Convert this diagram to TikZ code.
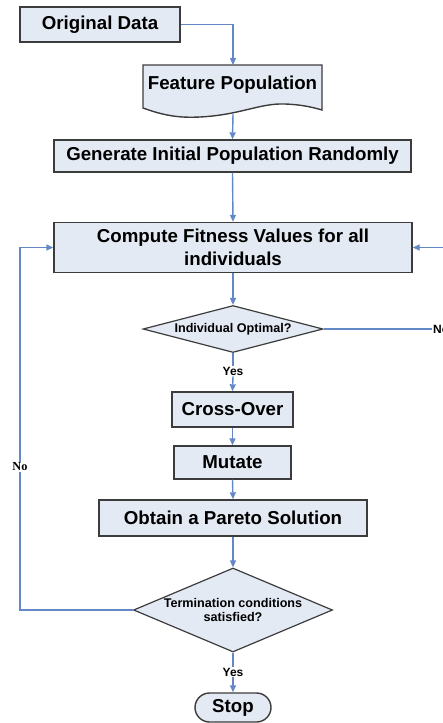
\documentclass[tikz,border=0pt]{standalone}
\usepackage{fontspec}
\setmainfont{Liberation Sans}
\newfontfamily\serifbold{Liberation Serif}
\usetikzlibrary{shapes.geometric,arrows.meta}
\definecolor{boxfill}{HTML}{E4EAF4}
\definecolor{boxline}{HTML}{3C3C3C}
\definecolor{conn}{HTML}{6488C6}
\tikzset{
  proc/.style={draw=boxline, fill=boxfill, line width=1.4pt, inner sep=0pt,
    font=\fontsize{18.7}{23}\selectfont\bfseries, align=center},
  dia/.style={shape=diamond, draw=boxline, fill=boxfill, line width=1.2pt, inner sep=0pt},
  dtext/.style={font=\fontsize{12.6}{13.5}\selectfont\bfseries, align=center, inner sep=0pt},
  lab/.style={font=\fontsize{12}{14}\selectfont\bfseries, fill=white, inner sep=1pt},
  conline/.style={draw=conn, line width=1.4pt},
  arr/.style={conline, -{Triangle[length=7pt,width=6pt]}},
}
\begin{document}
\begin{tikzpicture}[x=1pt,y=-1pt]
\useasboundingbox (0,0) rectangle (442,723);
% nodes
\node[proc, minimum width=160pt, minimum height=35pt] (od) at (100,24.5) {Original Data};
% document shape
\path[draw=boxline, fill=boxfill, line width=1.4pt]
  (143,65) -- (322,65) -- (322,110)
  .. controls (312,107) and (300,104.5) .. (285,104)
  .. controls (260,103) and (240,115) .. (200,117)
  .. controls (180,118) and (165,116) .. (143,108) -- cycle;
\node[font=\fontsize{18.7}{23}\selectfont\bfseries, inner sep=0pt] (fp) at (232.5,85) {Feature Population};
\coordinate (fpt) at (233,65);
\coordinate (fpb) at (233,114);
\node[proc, minimum width=357pt, minimum height=32pt] (gen) at (232.5,156) {Generate Initial Population Randomly};
\node[proc, minimum width=358pt, minimum height=50pt] (cf) at (233,247.5) {Compute Fitness Values for all\\individuals};
\node[dia, minimum width=180pt, minimum height=47pt,
  label={[dtext]center:Individual Optimal?}] (d1) at (233,329) {};
\node[lab] (yes1) at (233,371) {Yes};
\node[proc, minimum width=121pt, minimum height=35pt] (co) at (232.5,409.5) {Cross-Over};
\node[proc, minimum width=117pt, minimum height=33pt] (mu) at (232.5,462.5) {Mutate};
\node[proc, minimum width=268pt, minimum height=36pt] (ob) at (233,518) {Obtain a Pareto Solution};
\node[dia, minimum width=199pt, minimum height=84pt,
  label={[dtext]center:{Termination conditions\\satisfied?}}] (d2) at (233,610) {};
\node[lab] (yes2) at (233,672) {Yes};
\node[proc, rounded corners=14.5pt, minimum width=76pt, minimum height=29pt] (stop) at (233,707.5) {Stop};
\node[lab, font=\fontsize{12.3}{14}\selectfont\serifbold\bfseries] (no1) at (20,467) {No};
\node[lab, anchor=west] (no2) at (432,329) {No};
% connectors
\draw[arr] (od.east) -| (fpt);
\draw[arr] (fpb) -- (gen.north);
\draw[arr] (gen.south) -- (cf.north);
\draw[arr] (cf.south) -- (d1.north);
\draw[conline] (d1.south) -- (yes1.north);
\draw[arr] (yes1.south) -- (co.north);
\draw[arr] (co.south) -- (mu.north);
\draw[arr] (mu.south) -- (ob.north);
\draw[arr] (ob.south) -- (d2.north);
\draw[conline] (d2.south) -- (yes2.north);
\draw[arr] (yes2.south) -- (stop.north);
\draw[conline] (d2.west) -| (no1.south);
\draw[arr] (no1.north) |- (cf.west);
\draw[conline] (d1.east) -- (no2.west);
\draw[arr] (no2.east) -- ++(8,0) |- (cf.east);
\end{tikzpicture}
\end{document}
